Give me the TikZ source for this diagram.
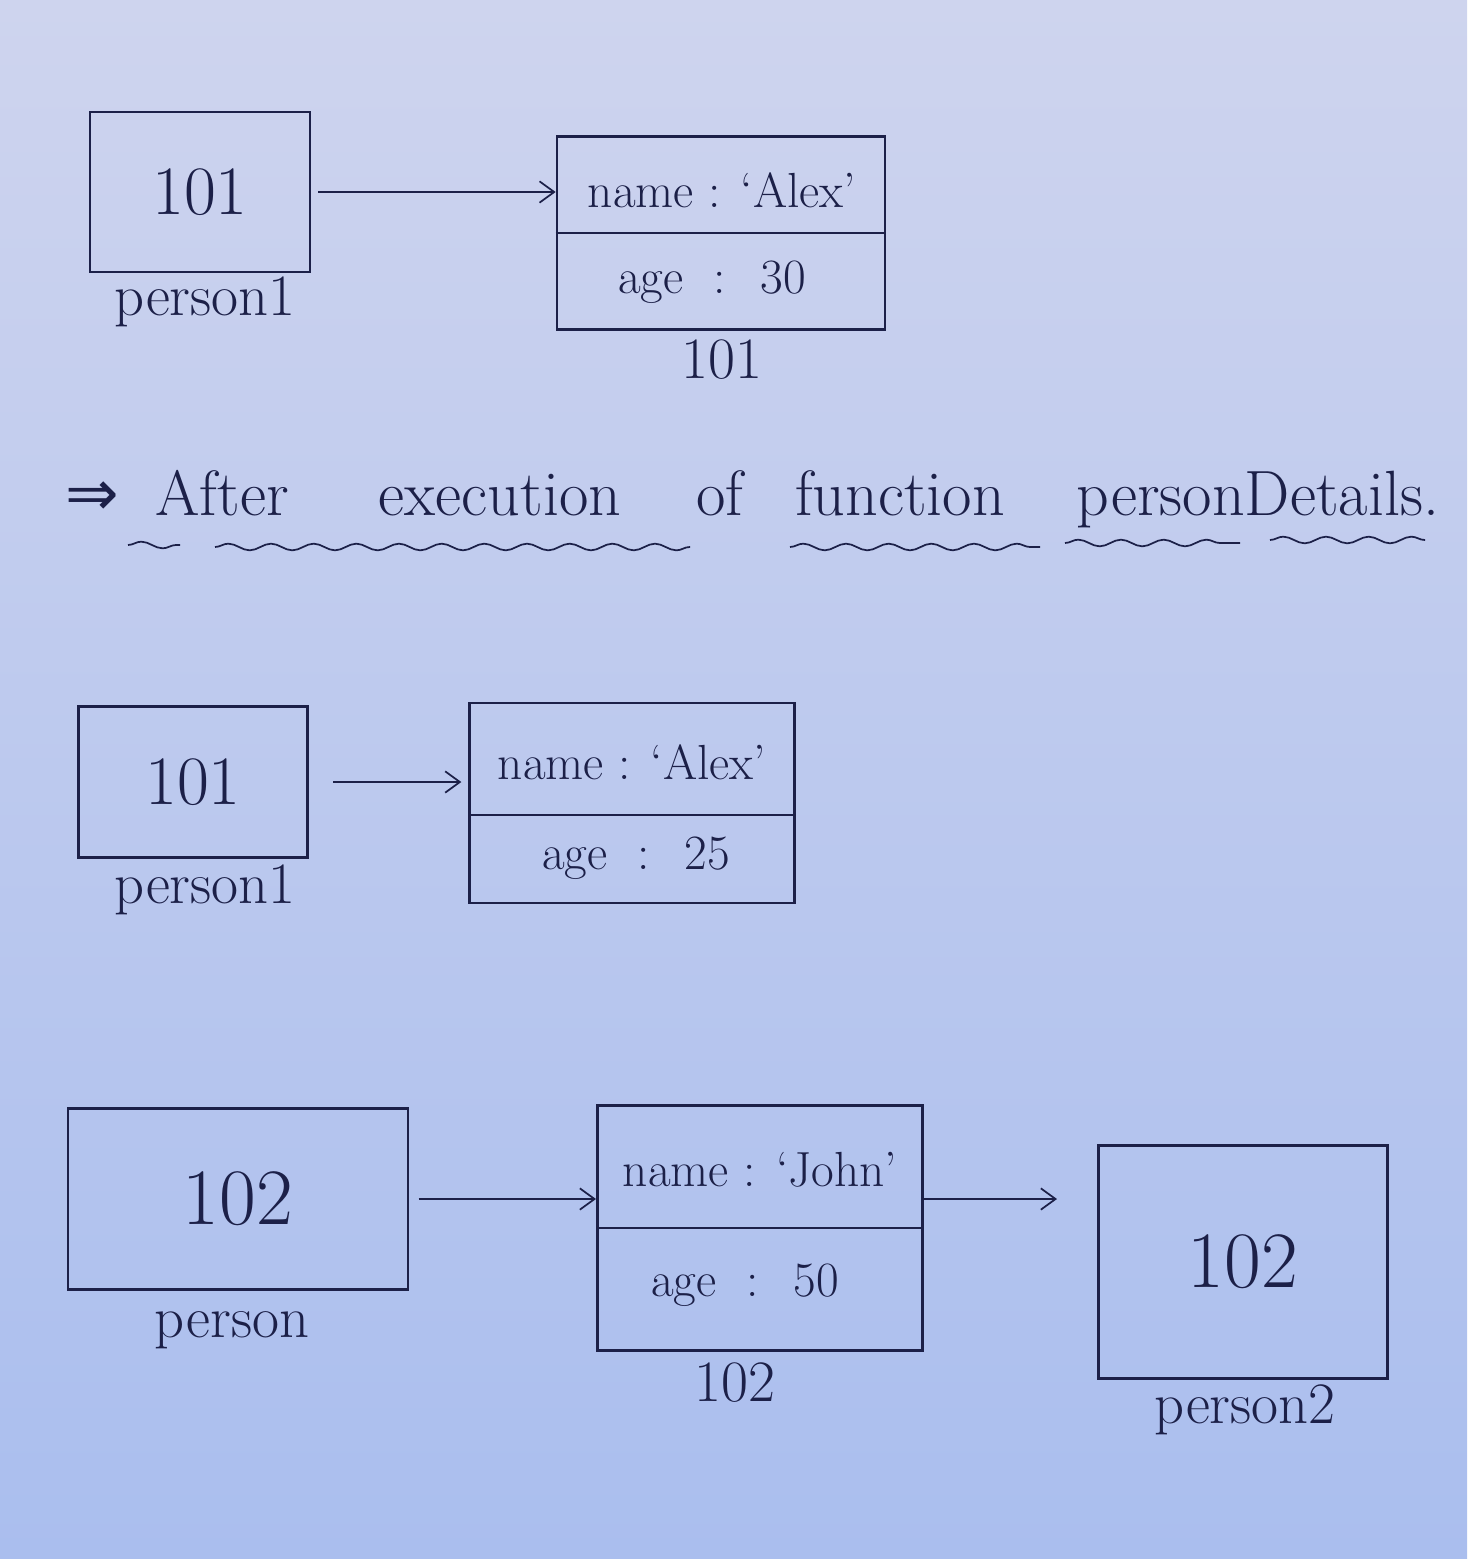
\documentclass[tikz,border=0pt]{standalone}
\usepackage{amsmath}
\usepackage{fontspec}
\usepackage{tikz}
\usetikzlibrary{arrows.meta,calc,decorations.pathmorphing}
\newfontfamily\arrowfont{DejaVu Sans}

\definecolor{ink}{RGB}{28,32,72}
\definecolor{paperTop}{RGB}{206,212,238}
\definecolor{paperBot}{RGB}{170,190,238}

\newcommand{\numfont}{\fontsize{52}{56}\selectfont}
\newcommand{\bignumfont}{\fontsize{60}{64}\selectfont}
\newcommand{\fieldfont}{\fontsize{37}{40}\selectfont}
\newcommand{\labelfont}{\fontsize{44}{48}\selectfont}
\newcommand{\headfont}{\fontsize{48}{52}\selectfont}

\tikzset{
  refbox/.style={draw=ink, line width=2pt, inner sep=0pt, text=ink},
  objbox/.style={draw=ink, line width=2pt, inner sep=0pt},
  hand/.style={text=ink, inner sep=0.75pt},
  pointer/.style={draw=ink, line width=1.3pt, -{Straight Barb[length=11pt,width=16pt]}},
  wavy/.style={draw=ink, line width=1.3pt, decorate,
    decoration={snake, amplitude=2.5pt, segment length=32pt}},
}

\begin{document}
\begin{tikzpicture}[x=0.75pt,y=0.75pt,yscale=-1,xscale=1]
%paper
\shade[top color=paperTop, bottom color=paperBot] (0,0) rectangle (1467,1559);
\useasboundingbox (0,0) rectangle (1467,1559);

%Row 1: before the call
\node[refbox, minimum width=165pt, minimum height=120pt, font=\numfont] (p1) at (200,192) {101};
\node[hand, font=\labelfont] (p1lbl) at (205,302) {person1};
\node[objbox, minimum width=246pt, minimum height=145pt] (obj1) at (721,233) {};
\draw[ink, line width=2pt] (obj1.west) -- (obj1.east);
\node[hand, font=\fieldfont] (obj1name) at (722,190) {name : `Alex'};
\node[hand, font=\fieldfont] (obj1age) at (712,282) {age \ : \ 30};
\node[hand, font=\labelfont] (obj1lbl) at (722,360) {101};
\draw[pointer, shorten <=5pt] (p1.east) -- (p1.east -| obj1.west);

% Heading
\node[hand, font=\headfont\arrowfont, anchor=base] (imp) at (92,515) {⇒};
\node[hand, font=\headfont, anchor=base] (wAfter) at (222,515) {After};
\node[hand, font=\headfont, anchor=base] (wExec) at (500,515) {execution};
\node[hand, font=\headfont, anchor=base] (wOf) at (720,515) {of};
\node[hand, font=\headfont, anchor=base] (wFunc) at (900,515) {function};
\node[hand, font=\headfont, anchor=base] (wDet) at (1258,515) {personDetails.};
\draw[wavy] (128,545) -- (180,545);
\draw[wavy] (215,547) -- (690,547);
\draw[wavy] (790,547) -- (1040,547);
\draw[wavy] (1065,543) -- (1240,543);
\draw[wavy] (1270,540) -- (1425,540);

%Row 2: after the call
\node[refbox, minimum width=172pt, minimum height=113pt, font=\numfont] (p1b) at (193,782) {101};
\node[hand, font=\labelfont] (p1blbl) at (205,890) {person1};
\node[objbox, minimum width=244pt, minimum height=150pt] (obj2) at (632,803) {};
\draw[ink, line width=2pt] ($(obj2.west)+(0,12)$) -- ($(obj2.east)+(0,12)$);
\node[hand, font=\fieldfont] (obj2name) at (632,762) {name : `Alex'};
\node[hand, font=\fieldfont] (obj2age) at (636,858) {age \ : \ 25};
\draw[pointer, shorten <=18pt, shorten >=5pt] (p1b.east) -- (p1b.east -| obj2.west);

%Row 3: second object
\node[refbox, minimum width=255pt, minimum height=136pt, font=\bignumfont] (p) at (238,1199) {102};
\node[hand, font=\labelfont] (plbl) at (232,1330) {person};
\node[objbox, minimum width=244pt, minimum height=184pt] (obj3) at (760,1228) {};
\draw[ink, line width=2pt] (obj3.west) -- (obj3.east);
\node[hand, font=\fieldfont] (obj3name) at (760,1170) {name : `John'};
\node[hand, font=\fieldfont] (obj3age) at (745,1285) {age \ : \ 50};
\node[hand, font=\labelfont] (obj3lbl) at (735,1383) {102};
\node[refbox, minimum width=217pt, minimum height=175pt, font=\bignumfont] (p2) at (1243,1262) {102};
\node[hand, font=\labelfont] (p2lbl) at (1245,1410) {person2};
\draw[pointer, shorten <=7pt] (p.east) -- (p.east -| obj3.west);
\draw[pointer, shorten >=30pt] (obj3.east |- p.east) -- (p.east -| p2.west);

\end{tikzpicture}
\end{document}
